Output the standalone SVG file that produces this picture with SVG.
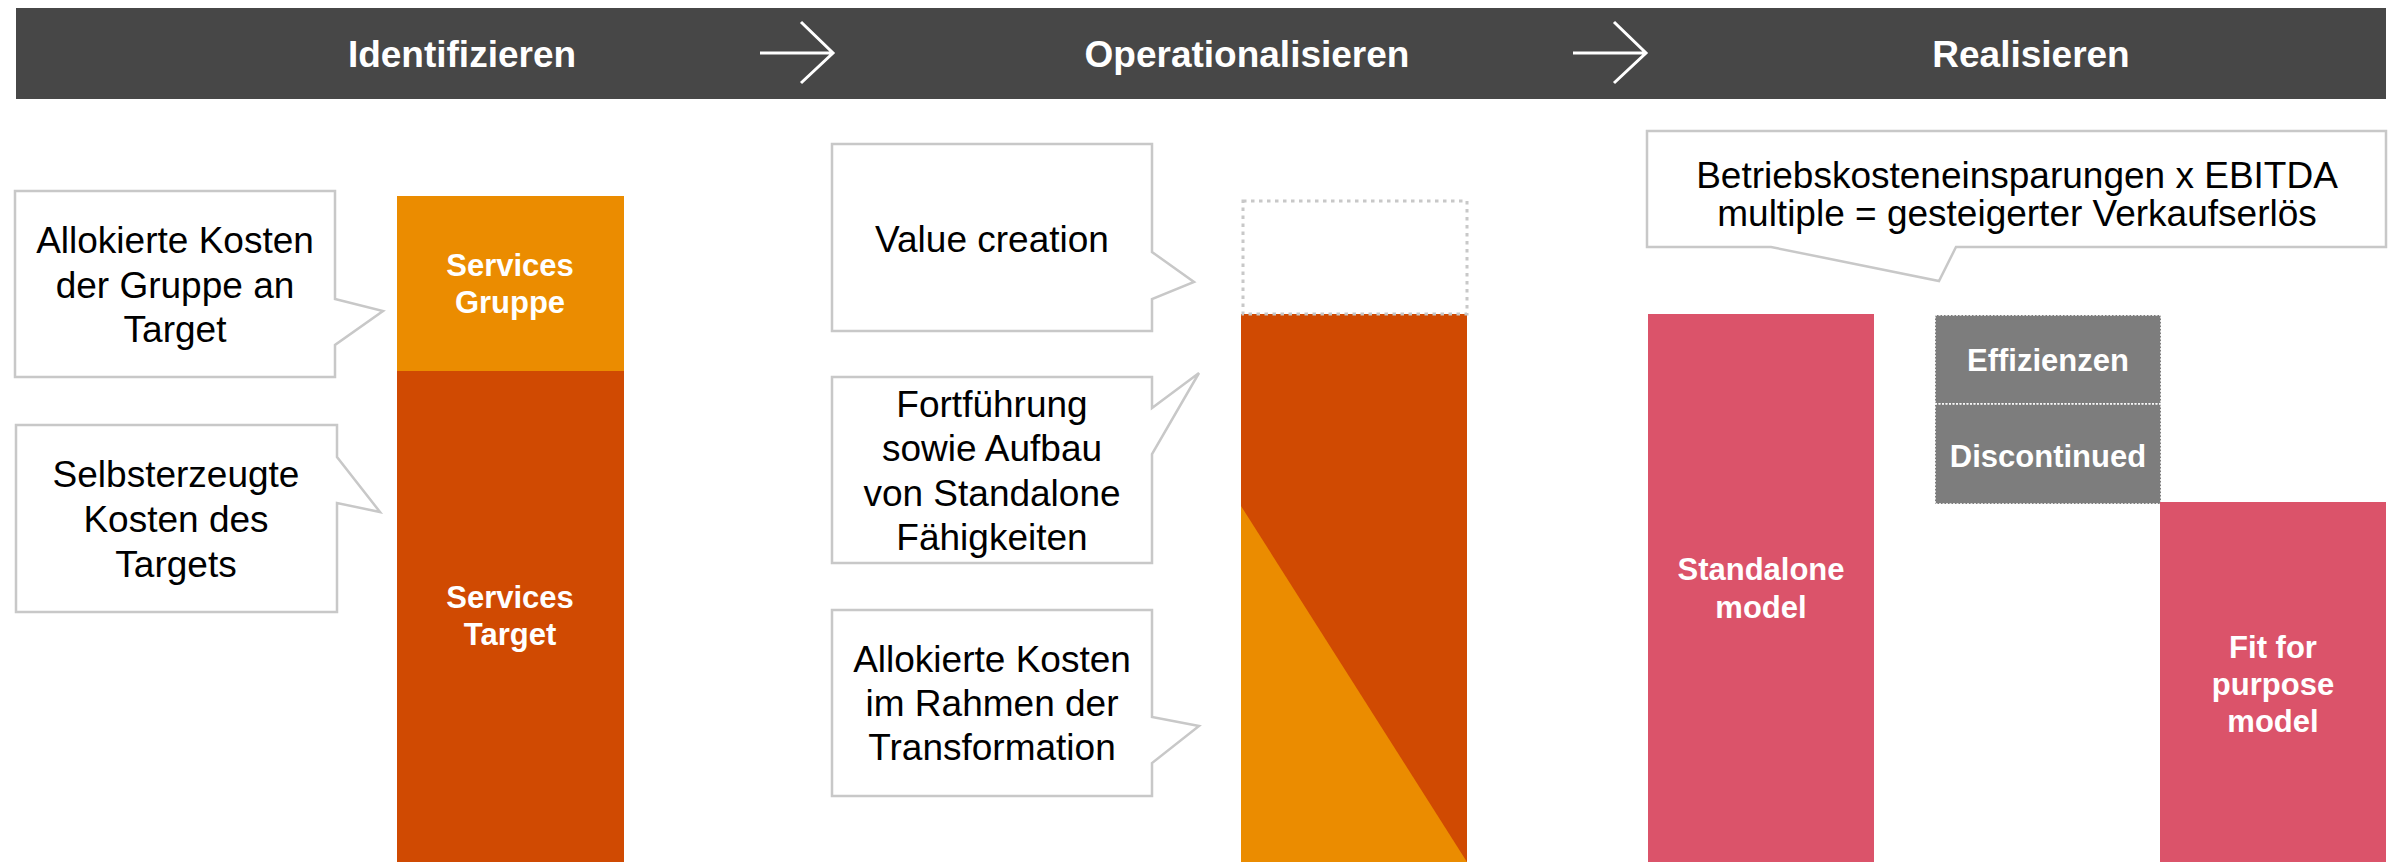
<svg xmlns="http://www.w3.org/2000/svg" width="2403" height="862" viewBox="0 0 2403 862">
<style>
.title{font-family:"Liberation Sans",Arial,sans-serif;font-weight:bold;font-size:37px;fill:#fff;text-anchor:middle}
.body{font-family:"Liberation Sans",Arial,sans-serif;font-size:37px;fill:#000;text-anchor:middle}
.lbl{font-family:"Liberation Sans",Arial,sans-serif;font-weight:bold;font-size:31px;fill:#fff;text-anchor:middle}
.callout{fill:#fff;stroke:#c8c8c8;stroke-width:2.5;stroke-linejoin:miter}
.arrow{fill:none;stroke:#fff;stroke-width:3}
</style>
<rect width="2403" height="862" fill="#fff"/>
<g id="header">
<rect x="16" y="8" width="2370" height="91" fill="#474747"/>
<text class="title" x="462" y="67">Identifizieren</text>
<text class="title" x="1247" y="67">Operationalisieren</text>
<text class="title" x="2031" y="67">Realisieren</text>
</g>
<g id="connectors">
<path class="arrow" d="M760,53 H833 M801,22 L833,53 L801,83"/>
<path class="arrow" d="M1573,53 H1646 M1614,22 L1646,53 L1614,83"/>
</g>
<g id="bar-identifizieren">
<rect x="397" y="196" width="227" height="175" fill="#eb8c00"/>
<rect x="397" y="371" width="227" height="491" fill="#d04a02"/>
<text class="lbl" x="510" y="276">Services</text>
<text class="lbl" x="510" y="313">Gruppe</text>
<text class="lbl" x="510" y="608">Services</text>
<text class="lbl" x="510" y="645">Target</text>
</g>
<g id="callout-allokiert-gruppe">
<path class="callout" d="M15,191 H335 V299 L383,311 L335,345 V377 H15 Z"/>
<text class="body" x="175" y="253">Allokierte Kosten</text>
<text class="body" x="175" y="298">der Gruppe an</text>
<text class="body" x="175" y="342">Target</text>
</g>
<g id="callout-selbsterzeugt">
<path class="callout" d="M16,425 H337 V457 L380,512 L337,503 V612 H16 Z"/>
<text class="body" x="176" y="487">Selbsterzeugte</text>
<text class="body" x="176" y="532">Kosten des</text>
<text class="body" x="176" y="577">Targets</text>
</g>
<g id="bar-operationalisieren">
<rect x="1241" y="314" width="226" height="548" fill="#d04a02"/>
<polygon points="1241,506 1467,862 1241,862" fill="#eb8c00"/>
<rect x="1243" y="201" width="224" height="113" fill="none" stroke="#c8c8c8" stroke-width="3" stroke-dasharray="3.5 4.5"/>
</g>
<g id="callout-value-creation">
<path class="callout" d="M832,144 H1152 V252 L1194,282 L1152,299 V331 H832 Z"/>
<text class="body" x="992" y="252">Value creation</text>
</g>
<g id="callout-fortfuehrung">
<path class="callout" d="M832,377 H1152 V408 L1199,373 L1152,454 V563 H832 Z"/>
<text class="body" x="992" y="417">Fortführung</text>
<text class="body" x="992" y="461">sowie Aufbau</text>
<text class="body" x="992" y="506">von Standalone</text>
<text class="body" x="992" y="550">Fähigkeiten</text>
</g>
<g id="callout-transformation">
<path class="callout" d="M832,610 H1152 V717 L1199,726 L1152,763 V796 H832 Z"/>
<text class="body" x="992" y="672">Allokierte Kosten</text>
<text class="body" x="992" y="716">im Rahmen der</text>
<text class="body" x="992" y="760">Transformation</text>
</g>
<g id="callout-ebitda">
<path class="callout" d="M1647,131 H2386 V247 H1956 L1939,281 L1771,247 H1647 Z"/>
<text class="body" x="2017" y="188">Betriebskosteneinsparungen x EBITDA</text>
<text class="body" x="2017" y="226">multiple = gesteigerter Verkaufserlös</text>
</g>
<g id="bar-standalone">
<rect x="1648" y="314" width="226" height="548" fill="#db536a"/>
<text class="lbl" x="1761" y="580">Standalone</text>
<text class="lbl" x="1761" y="618">model</text>
</g>
<g id="box-effizienzen">
<rect x="1935" y="315" width="226" height="89" fill="#7d7d7d" stroke="#fff" stroke-width="1.5" stroke-dasharray="2 1.5"/>
<text class="lbl" x="2048" y="371">Effizienzen</text>
</g>
<g id="box-discontinued">
<rect x="1935" y="404" width="226" height="100" fill="#7d7d7d" stroke="#fff" stroke-width="1.5" stroke-dasharray="2 1.5"/>
<text class="lbl" x="2048" y="467">Discontinued</text>
</g>
<g id="bar-fit-for-purpose">
<rect x="2160" y="502" width="226" height="360" fill="#db536a"/>
<text class="lbl" x="2273" y="658">Fit for</text>
<text class="lbl" x="2273" y="695">purpose</text>
<text class="lbl" x="2273" y="732">model</text>
</g>
</svg>
